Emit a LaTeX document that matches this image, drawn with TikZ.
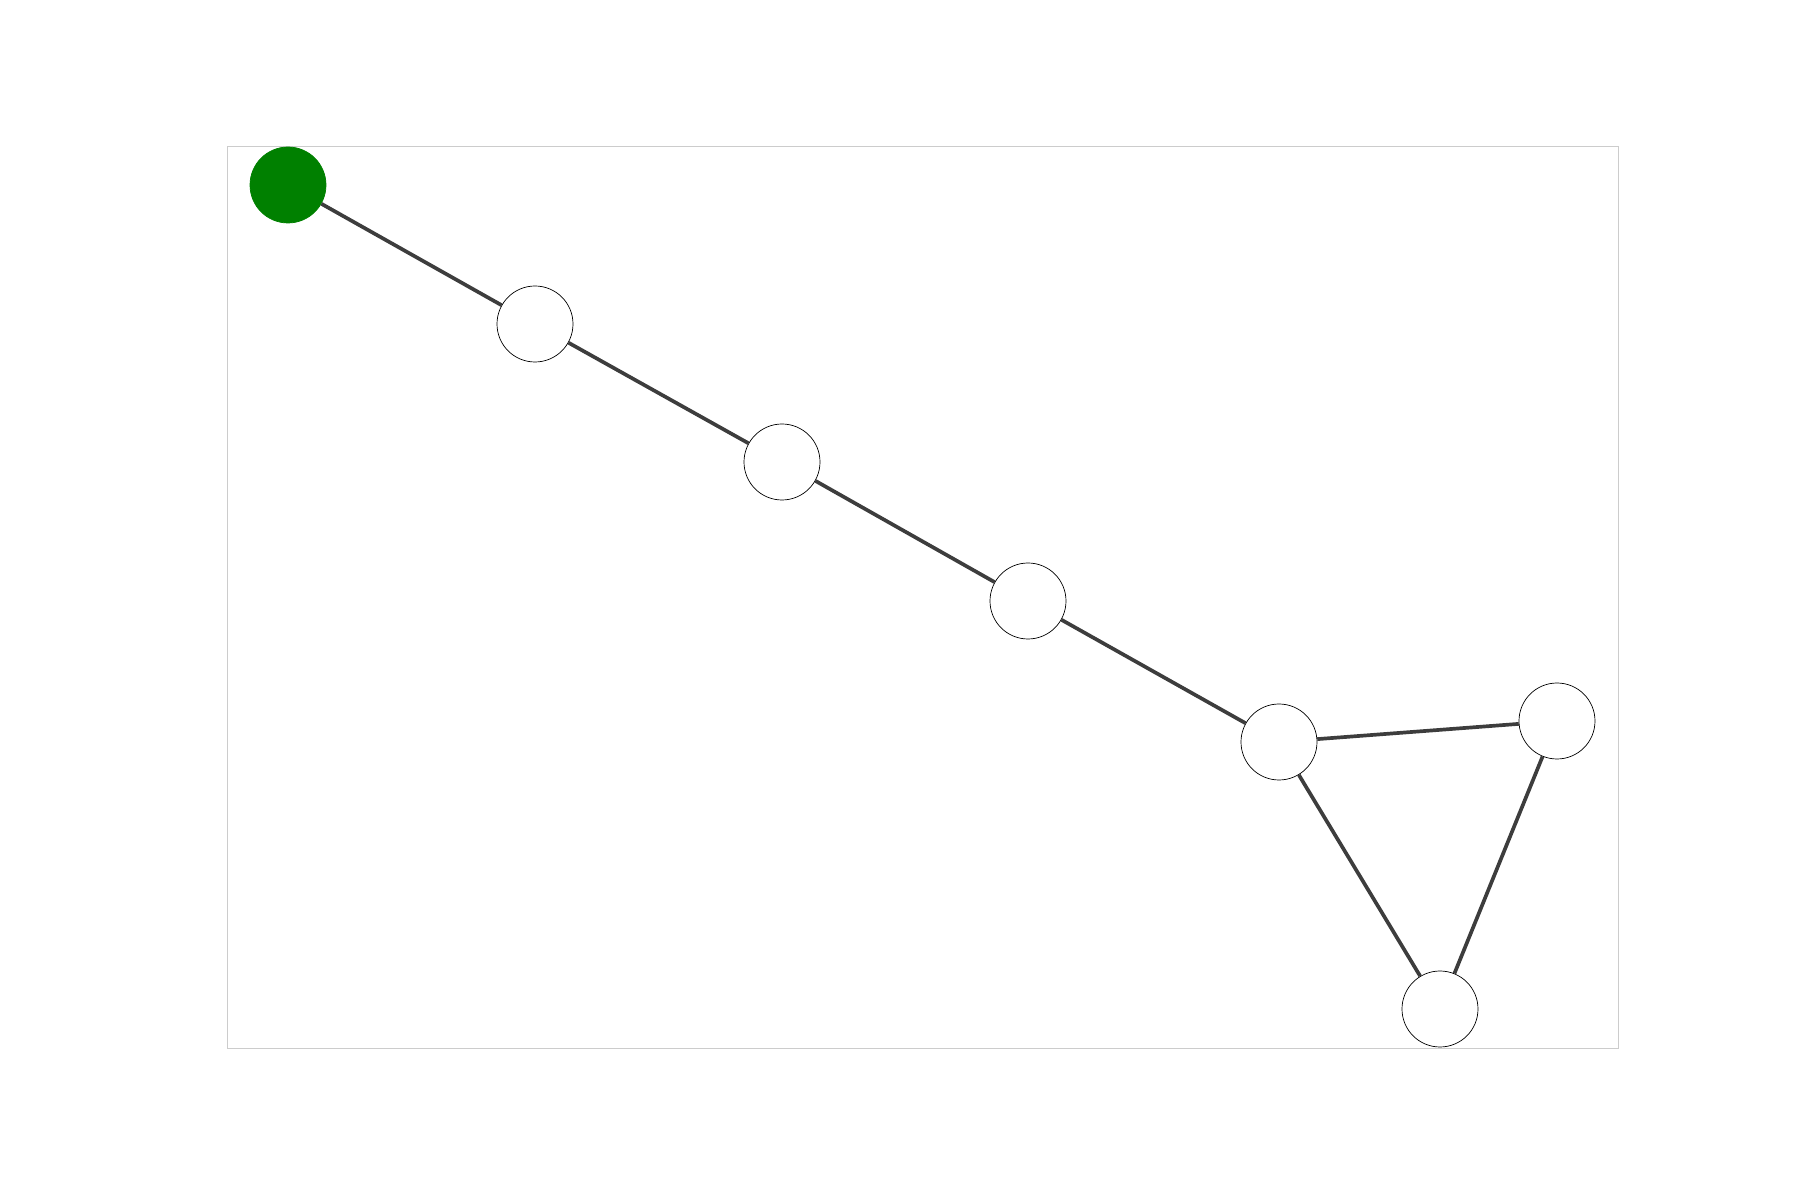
\documentclass[tikz,border=0pt]{standalone}
\usetikzlibrary{positioning}
\definecolor{edgegray}{HTML}{3D3D3D}
\definecolor{framegray}{HTML}{CCCCCC}
\definecolor{startgreen}{HTML}{008000}
\begin{document}
\begin{tikzpicture}[
                vertex/.style={circle, draw=black, line width=0.2pt, fill=white, minimum size=0.76cm, inner sep=0pt},
                start/.style={vertex, draw=startgreen, fill=startgreen},
                link/.style={draw=edgegray, line width=1.05pt},
            ]
            \useasboundingbox (0,0) rectangle (18,12);
            \draw[framegray, line width=0.28pt] (2.27,1.52) rectangle (16.18,10.54);
            \node[start] (v0) at (2.88,10.15) {};
            \node[vertex] (v1) at (5.35,8.76) {};
            \node[vertex] (v2) at (7.82,7.38) {};
            \node[vertex] (v3) at (10.28,5.99) {};
            \node[vertex] (v4) at (12.79,4.58) {};
            \node[vertex] (v5) at (15.57,4.79) {};
            \node[vertex] (v6) at (14.40,1.91) {};
            \path[link] (v0) -- (v1) (v1) -- (v2) (v2) -- (v3) (v3) -- (v4)
                (v4) -- (v5) (v4) -- (v6) (v5) -- (v6);
            \end{tikzpicture}
\end{document}
